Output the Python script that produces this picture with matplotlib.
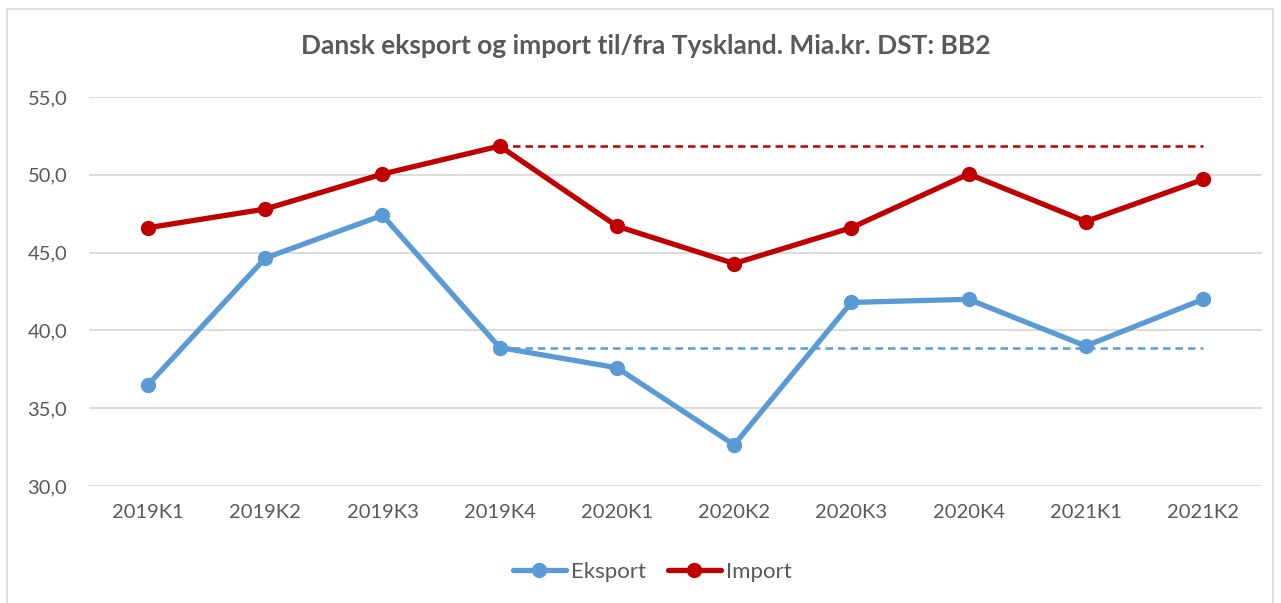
import matplotlib.pyplot as plt
from matplotlib.patches import Rectangle

# data
quarters = ['2019K1', '2019K2', '2019K3', '2019K4', '2020K1',
            '2020K2', '2020K3', '2020K4', '2021K1', '2021K2']
eksport = [36.5, 44.65, 47.4, 38.9, 37.6, 32.65, 41.8, 42.0, 39.0, 42.0]
importv = [46.6, 47.8, 50.05, 51.85, 46.7, 44.3, 46.6, 50.05, 47.0, 49.7]
ref_idx = 3   # 2019K4 level, dashed until the end

blue = '#5B9BD5'
red = '#C00000'
grey = '#595959'

plt.rcParams['font.family'] = ['Lato', 'DejaVu Sans']

fig = plt.figure(figsize=(12.81, 6.03), dpi=100)
ax = fig.add_axes([0.0698, 0.194, 0.9151, 0.6451])

x = list(range(len(quarters)))
ax.plot(x, eksport, color=blue, lw=3.8, marker='o', ms=10, label='Eksport',
        solid_capstyle='round', zorder=3)
ax.plot(x, importv, color=red, lw=3.8, marker='o', ms=10, label='Import',
        solid_capstyle='round', zorder=3)

# dashed reference lines from 2019K4
xr = x[ref_idx:]
ax.plot(xr, [eksport[ref_idx]] * len(xr), color=blue, lw=1.8, ls=(0, (3, 2)), zorder=2)
ax.plot(xr, [importv[ref_idx]] * len(xr), color=red, lw=1.8, ls=(0, (3, 2)), zorder=2)

ax.set_xlim(-0.5, len(quarters) - 0.5)
ax.set_ylim(30, 55)
ax.set_yticks([30, 35, 40, 45, 50, 55])
ax.set_yticklabels([f'{v:.1f}'.replace('.', ',') for v in [30, 35, 40, 45, 50, 55]])
ax.set_xticks(x)
ax.set_xticklabels(quarters)
ax.tick_params(axis='both', length=0, labelsize=14.5, colors=grey)
ax.tick_params(axis='x', pad=13)
ax.tick_params(axis='y', pad=16)
ax.grid(axis='y', color='#D9D9D9', lw=1.3)
ax.set_axisbelow(True)
for s in ax.spines.values():
    s.set_visible(False)

fig.text(0.504, 0.923, 'Dansk eksport og import til/fra Tyskland. Mia.kr. DST: BB2',
         ha='center', va='center', fontsize=19, fontweight='bold', color=grey)

leg = fig.legend(loc='center', bbox_to_anchor=(0.509, 0.052), ncol=2, frameon=False,
                 fontsize=16, handlelength=2.4, handletextpad=0.2, columnspacing=1.0,
                 labelcolor=grey)

# outer border
fig.patches.append(Rectangle((0.0055, -0.01), 0.988, 0.995, transform=fig.transFigure,
                             fill=False, edgecolor='#D9D9D9', lw=1.2))

fig.savefig('out.png', dpi=100)
